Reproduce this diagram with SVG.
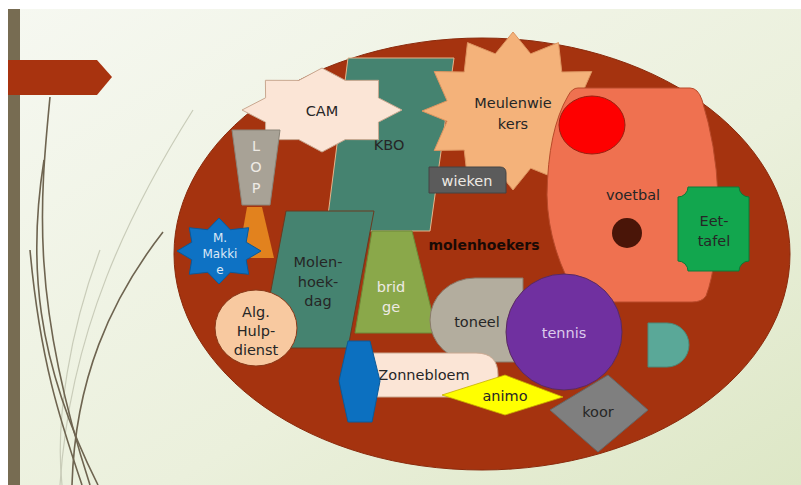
<svg xmlns="http://www.w3.org/2000/svg" width="801" height="485" viewBox="0 0 801 485">
<defs>
<linearGradient id="bg" x1="0" y1="0" x2="1" y2="1">
<stop offset="0" stop-color="#f6f8f1"/>
<stop offset="0.6" stop-color="#ebf0dc"/>
<stop offset="1" stop-color="#dde7c6"/>
</linearGradient>
<style>
text{font-family:"DejaVu Sans","Liberation Sans",sans-serif;font-size:14.5px;text-anchor:middle;fill:#262626}
.lt{fill:#eeeae4}
.curve{fill:none;stroke:#6e6450;stroke-width:1.6}
.faint{fill:none;stroke:#c9ccb9;stroke-width:1.2}
</style>
</defs>
<rect x="0" y="0" width="801" height="485" fill="#ffffff"/>
<rect x="8" y="9" width="793" height="476" fill="url(#bg)"/>
<rect x="8" y="9" width="12" height="476" fill="#776c52"/>
<g id="decor">
<path class="faint" d="M193,110 C130,210 70,330 60,485"/>
<path class="faint" d="M100,250 C70,330 55,420 62,485"/>
<path class="curve" d="M50,97 C40,200 30,300 90,485"/>
<path class="curve" d="M44,160 C28,260 35,360 98,485"/>
<path class="curve" d="M30,250 C40,360 60,420 82,485"/>
<path class="curve" d="M163,232 C110,300 75,380 72,485"/>
</g>
<path d="M8,60 L97,60 L112,77 L97,95 L8,95 Z" fill="#a8330f"/>
<ellipse cx="482" cy="254" rx="308" ry="216" fill="#a5330f" stroke="#8a2a0c" stroke-width="1"/>
<g id="kbo">
<path d="M348,58 L454,58 L430,231 L326,231 Z" fill="#458370" stroke="#e6b48a" stroke-width="1"/>
<text x="389" y="150" fill="#1a2a20">KBO</text>
</g>
<g id="cam">
<path d="M402,110 L378.4,122.2 L378.6,139.7 L345.3,139.6 L322,152 L298.7,139.6 L265.4,139.7 L265.6,122.2 L242,110 L265.6,97.8 L265.4,80.3 L298.7,80.4 L322,68 L345.3,80.4 L378.6,80.3 L378.4,97.8 Z" fill="#fbe5d6" stroke="#c9a890" stroke-width="1"/>
<text x="322" y="116">CAM</text>
</g>
<g id="meulenwiekers">
<path d="M604,111 L578.9,121.2 L591.8,150.5 L561.8,150.0 L558.5,179.4 L530.7,168.2 L513,190 L495.3,168.2 L467.5,179.4 L464.2,150.0 L434.2,150.5 L447.1,121.2 L422,111 L447.1,100.8 L434.2,71.5 L464.2,72.0 L467.5,42.6 L495.3,53.8 L513,32 L530.7,53.8 L558.5,42.6 L561.8,72.0 L591.8,71.5 L578.9,100.8 Z" fill="#f4b27a" stroke="#dc9460" stroke-width="1"/>
<text x="513" y="108">Meulenwie</text>
<text x="513" y="129">kers</text>
</g>
<g id="wieken">
<path d="M429,167 L500,167 Q506,167 506,173 L506,193 L429,193 Z" fill="#5b5b5b" stroke="#444" stroke-width="1"/>
<text x="467" y="186" class="lt">wieken</text>
</g>
<g id="voetbal">
<path d="M578,88 L690,88 Q698,88 702,100 Q716,145 718,195 Q718,265 706,296 Q702,302 692,302 L580,302 Q548,250 547,195 Q548,130 568,96 Q572,88 578,88 Z" fill="#ef7150" stroke="#b84a2a" stroke-width="1"/>
<ellipse cx="592" cy="125" rx="33" ry="29" fill="#fe0000" stroke="#9a2010" stroke-width="1"/>
<text x="633" y="200" fill="#3a1a10">voetbal</text>
<circle cx="627" cy="233" r="15" fill="#4a1508"/>
</g>
<g id="eettafel">
<path d="M688,187 L739,187 A10,10 0 0 0 749,197 L749,261 A10,10 0 0 0 739,271 L688,271 A10,10 0 0 0 678,261 L678,197 A10,10 0 0 0 688,187 Z" fill="#12a64e" stroke="#0c7a38" stroke-width="1"/>
<text x="714" y="226">Eet-</text>
<text x="714" y="246">tafel</text>
</g>
<g id="lop">
<path d="M232,130 L280,130 L270,205 L242,205 Z" fill="#a8a296" stroke="#8a8478" stroke-width="1"/>
<text x="256" y="151" class="lt">L</text>
<text x="256" y="172" class="lt">O</text>
<text x="256" y="193" class="lt">P</text>
</g>
<path d="M247,207 L262,207 L274,258 L238,258 Z" fill="#e2821e"/>
<g id="makkie">
<path d="M219,218 L230.3,229.7 L248.7,227.7 L246.2,242.2 L261,251 L246.2,259.8 L248.7,274.3 L230.3,272.3 L219,284 L207.7,272.3 L189.3,274.3 L191.8,259.8 L177,251 L191.8,242.2 L189.3,227.7 L207.7,229.7 Z" fill="#0e72c4" stroke="#0a5a9a" stroke-width="1"/>
<text x="220" y="242" style="font-size:12px;fill:#dce9f7">M.</text>
<text x="220" y="258" style="font-size:12px;fill:#dce9f7">Makki</text>
<text x="220" y="274" style="font-size:12px;fill:#dce9f7">e</text>
</g>
<g id="molenhoekdag">
<path d="M286,211 L374,211 L348,348 L260,348 Z" fill="#458370" stroke="#6a3a20" stroke-width="1"/>
<text x="318" y="267" fill="#1a2a20">Molen-</text>
<text x="318" y="287" fill="#1a2a20">hoek-</text>
<text x="318" y="306" fill="#1a2a20">dag</text>
</g>
<g id="alghulpdienst">
<ellipse cx="256" cy="328" rx="41" ry="38" fill="#f8c9a0" stroke="#8a3a1a" stroke-width="1"/>
<text x="256" y="317">Alg.</text>
<text x="256" y="336">Hulp-</text>
<text x="256" y="355">dienst</text>
</g>
<g id="bridge">
<path d="M372,231 L412,231 L437,333 L355,333 Z" fill="#8aa84a" stroke="#6e8a38" stroke-width="1"/>
<text x="391" y="292" class="lt">brid</text>
<text x="391" y="312" class="lt">ge</text>
</g>
<text x="484" y="250" style="font-weight:bold;font-size:14px;fill:#1a0a05">molenhoekers</text>
<g id="toneel">
<path d="M523,278 L475,278 A45,42 0 0 0 475,362 L523,362 Z" fill="#b3ad9e" stroke="#8a7a6a" stroke-width="1"/>
<text x="477" y="327">toneel</text>
</g>
<g id="koor">
<path d="M550,410 L608,375 L648,410 L598,452 Z" fill="#7f7f7f" stroke="#666" stroke-width="1"/>
<text x="598" y="417">koor</text>
</g>
<g id="tennis">
<circle cx="564" cy="332" r="58" fill="#7030a0" stroke="#5a2a60" stroke-width="1"/>
<text x="564" y="338" style="fill:#dccbec">tennis</text>
</g>
<g id="d-shape">
<path d="M648,323 L667,323 A22,22 0 0 1 667,367 L648,367 Z" fill="#5aa898" stroke="#4a8a7a" stroke-width="1"/>
</g>
<g id="zonnebloem">
<path d="M373,353 L476,353 Q498,353 498,375 Q498,397 476,397 L373,397 Z" fill="#fbe5d6" stroke="#c9a890" stroke-width="1"/>
<text x="424" y="380">Zonnebloem</text>
</g>
<g id="hexagon">
<path d="M348,341 L370,341 L380,381 L372,422 L348,422 L339,381 Z" fill="#0c70c0" stroke="#0a5a9a" stroke-width="1"/>
</g>
<g id="animo">
<path d="M442,395 L505,375 L563,397 L505,415 Z" fill="#ffff00" stroke="#c8b000" stroke-width="0.8"/>
<text x="505" y="401">animo</text>
</g>
<g id="connectors"></g>
</svg>
